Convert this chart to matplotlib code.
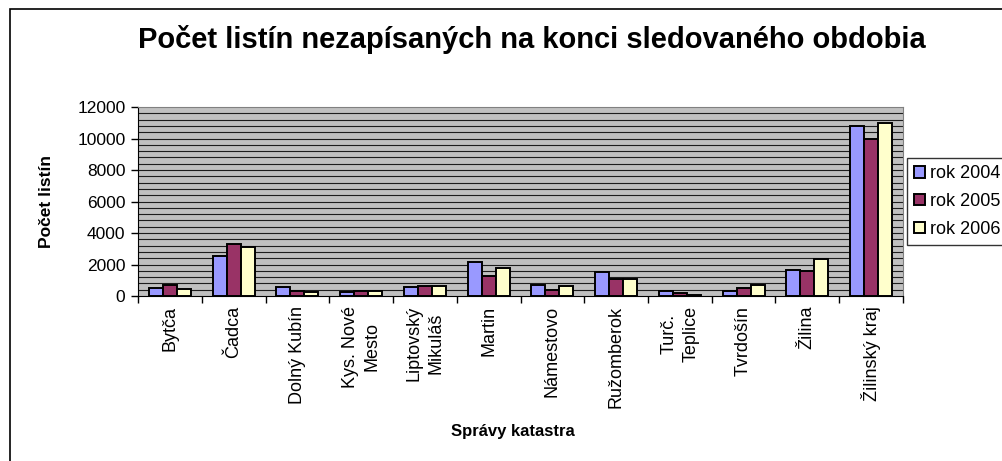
import numpy as np
import matplotlib.pyplot as plt
from matplotlib.patches import Rectangle

plt.rcParams['font.family'] = ['Liberation Sans', 'DejaVu Sans']

# Data
categories = ['Bytča', 'Čadca', 'Dolný Kubín', 'Kys. Nové\nMesto', 'Liptovský\nMikuláš',
              'Martin', 'Námestovo', 'Ružomberok', 'Turč.\nTeplice', 'Tvrdošín',
              'Žilina', 'Žilinský kraj']
rok_2004 = [530, 2540, 590, 230, 570, 2140, 680, 1500, 320, 320, 1630, 10800]
rok_2005 = [680, 3300, 340, 320, 630, 1270, 400, 1060, 210, 510, 1570, 9970]
rok_2006 = [420, 3130, 230, 320, 630, 1780, 650, 1060, 90, 700, 2350, 11000]
series_labels = ['rok 2004', 'rok 2005', 'rok 2006']
colors = ['#9999FF', '#993366', '#FFFFCC']

fig = plt.figure(figsize=(10.03, 4.61), dpi=100)
ax = fig.add_axes([138 / 1003, 1 - 296 / 461, 765 / 1003, 189 / 461])

# outer chart border (right and bottom edges run off the image)
fig.patches.append(Rectangle((10 / 1003, -0.1), 1.2, 1 - 9 / 461 + 0.1,
                             transform=fig.transFigure, fill=False,
                             edgecolor='black', linewidth=1.2))

x = np.arange(len(categories))
w = 0.22
for i, vals in enumerate([rok_2004, rok_2005, rok_2006]):
    ax.bar(x + (i - 1) * w, vals, w, color=colors[i], edgecolor='black',
           linewidth=1.4, label=series_labels[i], zorder=3)

ax.set_facecolor('#C0C0C0')
ax.set_xlim(-0.5, len(categories) - 0.5)
ax.set_ylim(0, 12000)
ax.set_yticks(np.arange(0, 12001, 2000))
for yv in np.arange(400, 12000, 400):
    ax.axhline(yv, color='black', linewidth=0.8, alpha=0.85, zorder=1)

ax.set_xticks(x)
ax.set_xticklabels(categories, rotation=90, fontsize=13, va='top', ha='center',
                   multialignment='center', linespacing=1.35)
ax.tick_params(axis='x', length=0, pad=7)
ax.set_xticks(np.arange(-0.5, len(categories), 1), minor=True)
ax.tick_params(axis='x', which='minor', length=5, width=1, direction='out')
ax.tick_params(axis='y', length=5, width=1, direction='out', labelsize=12.5, pad=4)

for side in ['top', 'right']:
    ax.spines[side].set_color('#808080')
for side in ['left', 'bottom']:
    ax.spines[side].set_color('black')

ax.set_ylabel('Počet listín', fontsize=12.5, fontweight='bold')
ax.yaxis.set_label_coords(-0.11, 0.5)
ax.set_xlabel('Správy katastra', fontsize=12, fontweight='bold')
ax.xaxis.set_label_coords(0.49, -0.675)

fig.text(0.53, 1 - 48 / 461, 'Počet listín nezapísaných na konci sledovaného obdobia',
         ha='center', va='baseline', fontsize=21, fontweight='bold')

leg = fig.legend(loc='upper left', bbox_to_anchor=(907 / 1003, 1 - 158 / 461),
                 fontsize=13, frameon=True, fancybox=False, handlelength=0.6,
                 handleheight=0.6, handletextpad=0.3, labelspacing=0.6,
                 borderpad=0.4, borderaxespad=0)
leg.get_frame().set_edgecolor('black')
leg.get_frame().set_linewidth(1)

fig.savefig('out.png', dpi=100)
